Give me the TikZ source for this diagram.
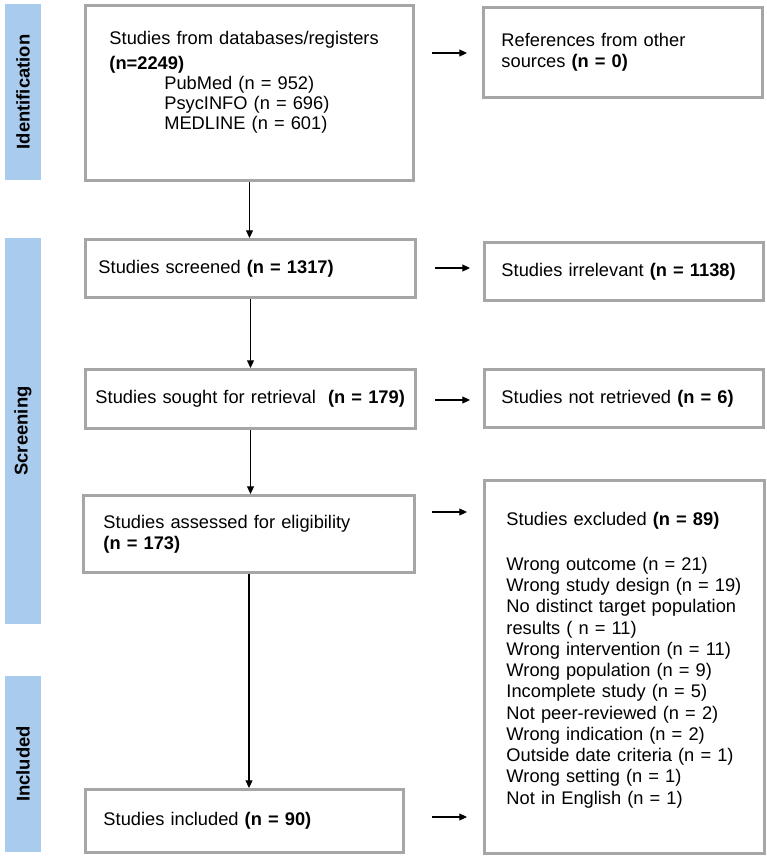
\documentclass[tikz,border=0pt]{standalone}
\usepackage{fontspec}
\setmainfont{Liberation Sans}
\usetikzlibrary{arrows.meta}
\definecolor{phaseblue}{HTML}{A9CBEE}
\definecolor{boxgray}{HTML}{A6A6A6}

\begin{document}
\begin{tikzpicture}[
  x=0.025cm, y=-0.025cm,
  box/.style={draw=boxgray, line width=2.1pt, anchor=north west, align=left, inner ysep=0pt, font=\fontsize{13}{15.1}\selectfont},
  phase/.style={fill=phaseblue, rotate=90, minimum height=0.9cm, inner sep=0pt, font=\fontsize{13.1}{15.1}\selectfont\bfseries},
  arrow/.style={-{Triangle[length=5.5pt,width=5pt]}, line width=0.8pt}
]
\useasboundingbox (0,0) rectangle (767,858);
\node[phase, minimum width=4.4cm] (ident) at (23,92) {Identification};
\node[phase, minimum width=9.65cm] (screen) at (23,431) {Screening};
\node[phase, minimum width=4.4cm] (incl) at (23,764) {Included};
\node[box, text width=7.0cm, inner xsep=0.6cm, minimum height=4.375cm] (dbs) at (84,4) {Studies from databases/registers\\[2.7pt]
  \textbf{(n=2249)}\\[-0.9pt]
  \hspace*{39pt}PubMed (n = 952)\\[-0.9pt]
  \hspace*{39pt}PsycINFO (n = 696)\\[-0.9pt]
  \hspace*{39pt}MEDLINE (n = 601)\\[3.3pt]\mbox{}};
\node[box, text width=6.075cm, inner xsep=0.45cm, minimum height=2.25cm] (refs) at (482,6) {References from other\\sources \textbf{(n = 0)}};
\node[box, text width=7.6cm, inner xsep=0.325cm, minimum height=1.45cm] (screened) at (84,238) {Studies screened \textbf{(n = 1317)}};
\node[box, text width=6.125cm, inner xsep=0.425cm, minimum height=1.45cm] (irrelevant) at (483,241) {Studies irrelevant \textbf{(n = 1138)}};
\node[box, text width=7.75cm, inner xsep=0.25cm, minimum height=1.475cm] (sought) at (84,368) {\mbox{Studies sought for retrieval\ \ \textbf{(n = 179)}}};
\node[box, text width=6.125cm, inner xsep=0.425cm, minimum height=1.45cm] (notret) at (483,368) {Studies not retrieved \textbf{(n = 6)}};
\node[box, text width=7.275cm, inner xsep=0.5cm, minimum height=1.925cm] (assessed) at (82,494) {Studies assessed for eligibility\\\textbf{(n = 173)}};
\node[box, text width=5.9cm, inner xsep=0.55cm, minimum height=9.325cm] (excluded) at (483,479) {Studies excluded \textbf{(n = 89)}\\[17pt]
  Wrong outcome (n = 21)\\
  \mbox{Wrong study design (n = 19)}\\
  \mbox{No distinct target population}\\
  results ( n = 11)\\
  Wrong intervention (n = 11)\\
  Wrong population (n = 9)\\
  Incomplete study (n = 5)\\
  Not peer-reviewed (n = 2)\\
  Wrong indication (n = 2)\\
  Outside date criteria (n = 1)\\
  Wrong setting (n = 1)\\
  Not in English (n = 1)\\[-2.3pt]\mbox{}};
\node[box, text width=7.05cm, inner xsep=0.45cm, minimum height=1.575cm] (included) at (84,788) {Studies included \textbf{(n = 90)}};
\coordinate (refs-from) at (432,53);
\coordinate (refs-to) at (467,53);
\coordinate (irr-from) at (435,268);
\coordinate (irr-to) at (470,268);
\coordinate (ret-from) at (435,400);
\coordinate (ret-to) at (470,400);
\coordinate (exc-from) at (432,512);
\coordinate (exc-to) at (467,512);
\coordinate (inc-from) at (432,817);
\coordinate (inc-to) at (467,817);
\draw[arrow] (dbs.south) -- (dbs.south |- screened.north);
\draw[arrow] (screened.south) -- (screened.south |- sought.north);
\draw[arrow] (sought.south) -- (sought.south |- assessed.north);
\draw[arrow] (assessed.south) -- (assessed.south |- included.north);
\draw[arrow] (refs-from) -- (refs-to);
\draw[arrow] (irr-from) -- (irr-to);
\draw[arrow] (ret-from) -- (ret-to);
\draw[arrow] (exc-from) -- (exc-to);
\draw[arrow] (inc-from) -- (inc-to);
\end{tikzpicture}
\end{document}
